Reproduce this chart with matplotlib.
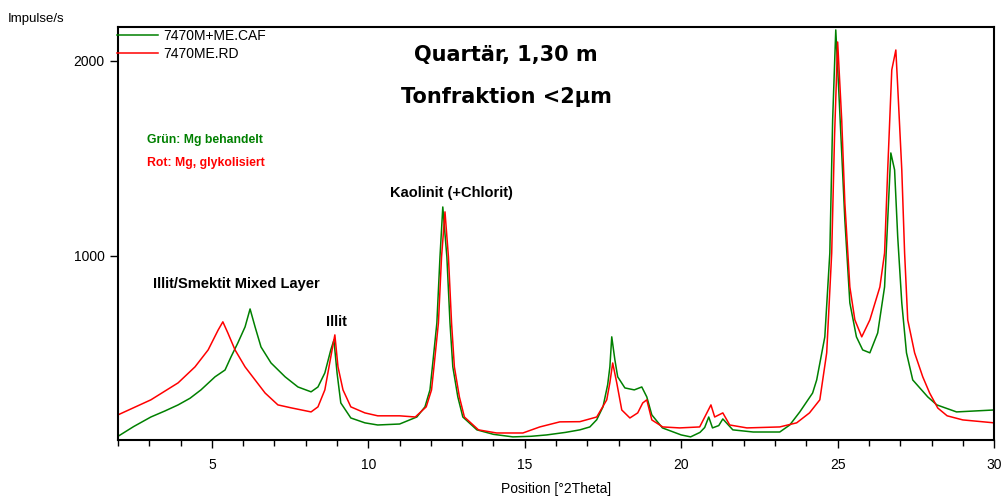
import numpy as np
import matplotlib
matplotlib.use("Agg")
import matplotlib.pyplot as plt
from matplotlib.ticker import MultipleLocator

plt.rcParams['font.family'] = ['Liberation Sans', 'DejaVu Sans']

# green trace: 7470M+ME.CAF (Mg behandelt)
green_x = [2.0, 2.5, 3.05, 3.5, 3.92, 4.3, 4.65, 5.1, 5.42, 5.61, 5.83, 6.06, 6.22, 6.38,
           6.57, 6.89, 7.34, 7.75, 8.17, 8.39, 8.61, 8.8, 8.9, 9.0, 9.12, 9.44, 9.89,
           10.3, 11.0, 11.55, 11.81, 11.97, 12.06, 12.19, 12.29, 12.38, 12.51, 12.61,
           12.7, 12.86, 13.02, 13.47, 14.0, 14.62, 15.2, 15.7, 16.3, 16.76, 17.08, 17.3,
           17.5, 17.65, 17.72, 17.78, 17.88, 17.97, 18.2, 18.5, 18.74, 18.9, 19.06, 19.4,
           20.0, 20.3, 20.6, 20.75, 20.88, 21.0, 21.2, 21.33, 21.65, 22.3, 23.15, 23.47,
           23.79, 24.2, 24.33, 24.59, 24.75, 24.84, 24.94, 25.03, 25.13, 25.23, 25.39,
           25.6, 25.8, 26.03, 26.28, 26.5, 26.6, 26.7, 26.82, 26.92, 27.05, 27.2, 27.4,
           27.88, 28.17, 28.8, 29.4, 30.0]
green_y = [75, 125, 174, 205, 236, 270, 313, 380, 415, 482, 554, 636, 728, 636,
           533, 451, 380, 328, 303, 328, 400, 518, 569, 400, 246, 169, 144,
           133, 138, 174, 226, 313, 451, 656, 995, 1251, 995, 656,
           431, 277, 174, 108, 85, 72, 75, 82, 95, 108, 123, 160,
           226, 340, 431, 585, 467, 380, 323, 313, 328, 277, 185, 118,
           82, 72, 95, 120, 174, 118, 130, 164, 108, 97, 97, 133,
           200, 297, 364, 585, 1015, 1697, 2159, 1867, 1528, 1185, 759,
           585, 518, 503, 605, 841, 1185, 1528, 1441, 1097, 759, 503, 364,
           277, 236, 200, 205, 210]

# red trace: 7470ME.RD (Mg, glykolisiert)
red_x = [2.0, 3.05, 3.92, 4.46, 4.88, 5.2, 5.35, 5.51, 5.74, 6.06, 6.38, 6.7, 7.11,
         7.53, 8.17, 8.39, 8.61, 8.8, 8.93, 9.03, 9.19, 9.44, 9.89, 10.3, 11.0, 11.5,
         11.85, 12.02, 12.11, 12.24, 12.34, 12.45, 12.56, 12.66, 12.75, 12.91, 13.07,
         13.52, 14.1, 14.94, 15.48, 16.12, 16.76, 17.3, 17.62, 17.72, 17.81, 17.94,
         18.1, 18.36, 18.61, 18.77, 18.9, 19.06, 19.41, 19.95, 20.59, 20.82, 20.95,
         21.07, 21.33, 21.55, 22.1, 23.15, 23.69, 24.1, 24.43, 24.65, 24.81, 24.9,
         25.0, 25.13, 25.23, 25.39, 25.55, 25.77, 26.03, 26.35, 26.5, 26.6, 26.73,
         26.86, 26.92, 27.05, 27.14, 27.24, 27.46, 27.72, 27.94, 28.2, 28.5, 29.0, 30.0]
red_y = [185, 262, 349, 431, 518, 620, 662, 605, 518, 431, 364, 297, 236,
         221, 200, 226, 313, 482, 595, 431, 313, 226, 195, 180, 180, 174,
         226, 313, 451, 656, 995, 1226, 995, 656, 431, 277, 174,
         108, 92, 92, 123, 149, 150, 174, 262, 350, 451, 349,
         210, 169, 195, 246, 262, 159, 123, 118, 123, 195, 236,
         174, 195, 133, 118, 123, 144, 195, 262, 503, 1015, 1610,
         2097, 1697, 1272, 841, 672, 585, 672, 841, 1015, 1441, 1954,
         2056, 1867, 1441, 1015, 672, 503, 380, 297, 220, 180, 159, 144]

fig = plt.figure(figsize=(10.02, 4.96), dpi=100)
ax = fig.add_axes([0.1178, 0.1129, 0.8743, 0.8327])

ax.plot(green_x, green_y, color='#008000', lw=1.1, label='7470M+ME.CAF')
ax.plot(red_x, red_y, color='#ff0000', lw=1.1, label='7470ME.RD')

ax.set_xlim(2, 30)
ax.set_ylim(56, 2174)
ax.xaxis.set_major_locator(MultipleLocator(5))
ax.xaxis.set_minor_locator(MultipleLocator(1))
ax.set_yticks([1000, 2000])
ax.tick_params(axis='both', which='major', length=6, width=1, labelsize=10, color='black')
ax.tick_params(axis='x', which='major', pad=7)
ax.tick_params(axis='x', which='minor', length=4, width=1)
for s in ax.spines.values():
    s.set_linewidth(1.5)

ax.set_xlabel('Position [°2Theta]', fontsize=10, labelpad=7)
fig.text(0.008, 0.962, 'Impulse/s', fontsize=9.5, ha='left', va='center')

leg = ax.legend(loc='upper left', bbox_to_anchor=(-0.004, 1.0), frameon=False,
                fontsize=10, handlelength=3.0, handletextpad=0.35, labelspacing=0.25,
                borderaxespad=0, borderpad=0.15)

ax.text(0.443, 0.932, 'Quartär, 1,30 m', transform=ax.transAxes, ha='center',
        va='center', fontsize=15, fontweight='bold', family='DejaVu Sans')
ax.text(0.443, 0.830, 'Tonfraktion <2µm', transform=ax.transAxes, ha='center',
        va='center', fontsize=15, fontweight='bold', family='DejaVu Sans')
ax.text(0.033, 0.727, 'Grün: Mg behandelt', transform=ax.transAxes, color='#008000',
        fontsize=8.8, fontweight='bold', va='center')
ax.text(0.033, 0.671, 'Rot: Mg, glykolisiert', transform=ax.transAxes, color='#ff0000',
        fontsize=8.8, fontweight='bold', va='center')
ax.text(12.67, 1323, 'Kaolinit (+Chlorit)', ha='center', va='center', fontsize=10.5,
        fontweight='bold')
ax.text(5.77, 856, 'Illit/Smektit Mixed Layer', ha='center', va='center', fontsize=10.5,
        fontweight='bold')
ax.text(8.97, 662, 'Illit', ha='center', va='center', fontsize=10.5, fontweight='bold')

fig.savefig('out.png', dpi=100)
